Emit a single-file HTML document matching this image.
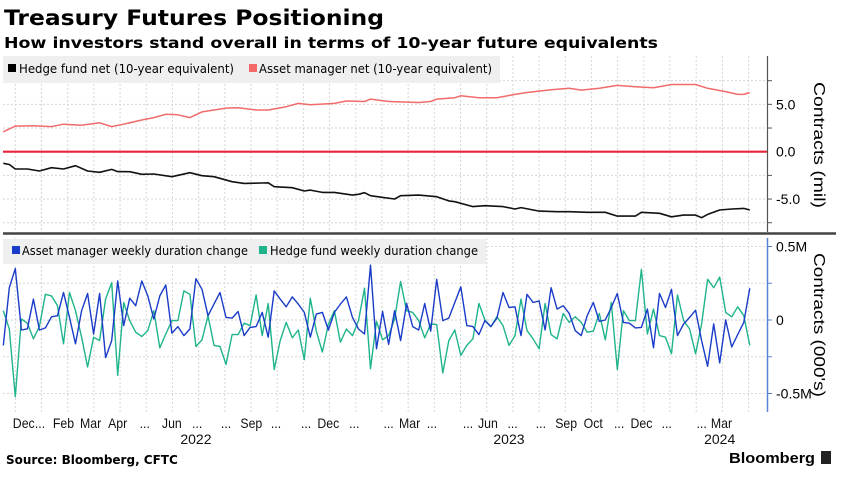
<!DOCTYPE html>
<html><head><meta charset="utf-8"><style>
html,body{margin:0;padding:0;background:#fff;}
svg{display:block;font-family:"DejaVu Sans","Liberation Sans",sans-serif;}
</style></head><body>
<svg id="chart" width="846" height="477" viewBox="0 0 846 477" xmlns="http://www.w3.org/2000/svg">
<text x="4" y="25" font-size="21" font-weight="bold" textLength="380" lengthAdjust="spacingAndGlyphs">Treasury Futures Positioning</text>
<text x="4" y="48" font-size="15" font-weight="bold" textLength="654" lengthAdjust="spacingAndGlyphs">How investors stand overall in terms of 10-year future equivalents</text>
<g id="grid"></g>
<rect x="3" y="56" width="497" height="27" fill="#efefef"/>
<rect x="8" y="64" width="8" height="8" fill="#000"/>
<text x="19" y="73" font-size="12" textLength="215" lengthAdjust="spacingAndGlyphs">Hedge fund net (10-year equivalent)</text>
<rect x="249" y="64" width="8" height="8" fill="#f46a6a"/>
<text x="259" y="73" font-size="12" textLength="233" lengthAdjust="spacingAndGlyphs">Asset manager net (10-year equivalent)</text>
<rect x="3" y="239" width="483" height="25" fill="#efefef"/>
<rect x="12" y="246" width="8" height="8" fill="#1a3cc8"/>
<text x="22" y="255" font-size="12" textLength="226" lengthAdjust="spacingAndGlyphs">Asset manager weekly duration change</text>
<rect x="259" y="246" width="8" height="8" fill="#1fb48c"/>
<text x="270" y="255" font-size="12" textLength="208" lengthAdjust="spacingAndGlyphs">Hedge fund weekly duration change</text>
<g id="series"></g>
<line x1="3" y1="233.5" x2="836" y2="233.5" stroke="#444" stroke-width="2.5"/>
<line x1="767.5" y1="56" x2="767.5" y2="232" stroke="#555" stroke-width="1.2"/>
<line x1="767.5" y1="238" x2="767.5" y2="412" stroke="#5b82d2" stroke-width="1.5"/>
<g id="axes"></g>
<text transform="translate(814,145) rotate(90)" text-anchor="middle" font-size="16" font-family="Liberation Sans, sans-serif" textLength="126" lengthAdjust="spacingAndGlyphs">Contracts (mil)</text>
<text transform="translate(814,325) rotate(90)" text-anchor="middle" font-size="16" font-family="Liberation Sans, sans-serif" textLength="144" lengthAdjust="spacingAndGlyphs">Contracts (000's)</text>
<g id="xlabels" fill="#111"></g>
<text x="6" y="464" font-size="12" font-weight="bold">Source: Bloomberg, CFTC</text>
<text x="729" y="463" font-size="15" font-weight="bold" font-family="Liberation Sans, sans-serif" textLength="86" lengthAdjust="spacingAndGlyphs">Bloomberg</text>
<rect x="821" y="451" width="10" height="13" fill="#222"/>
</svg>
<script>
// Weekly duration change (thousands of contracts), weeks 0..124
const assetMgrWeekly = [-173,220,350,-68,-60,142,-68,-54,22,29,187,18,-162,63,180,-95,180,-256,-140,265,-38,148,97,265,164,7,164,238,-90,-45,-106,-61,281,209,29,108,187,18,13,58,-106,-50,-45,52,-117,198,142,90,157,108,52,-117,40,52,-68,52,108,157,18,-61,-95,373,-196,58,-166,63,-140,112,-45,-68,
112,-76,277,-4,13,119,225,-38,-45,-99,-4,-45,13,187,85,90,-106,175,119,130,-68,220,74,97,45,-72,-106,29,119,-9,0,85,180,-16,-22,-54,-50,74,-189,180,85,209,-106,-27,18,67,-140,-315,-27,-292,0,-184,-99,-16,216];
const hedgeFundWeekly = [63,-61,-522,7,-22,-128,-45,175,164,97,-162,187,63,-117,-320,-117,-140,142,254,-376,119,-4,-83,-112,-72,63,-189,-95,-4,-4,198,175,-180,-135,29,-173,-180,-302,-99,-99,-22,-38,171,-106,112,-337,-140,-16,-121,-68,-270,148,-76,-218,-27,63,-151,-61,-106,-4,216,-331,-9,-135,-106,7,261,63,52,-4,
-121,-27,-31,-360,-140,-68,-241,-173,-128,112,0,-45,22,-38,-173,-106,142,-72,-128,-196,112,-99,-128,45,-16,22,-16,-83,-76,45,-135,119,-337,63,-4,-4,344,-95,74,-106,-117,-229,171,-4,-61,-229,-27,277,220,292,52,22,90,29,-173];
// Net positions (millions of 10y equivalent contracts), sampled at week indices
const assetMgrWeeks = [0,2,5,8,10,13,16,18,20,23,25,27,29,31,33,37,39,42,44,47,49,51,55,57,60,61,64,69,71,72,75,76,79,82,85,87,91,94,96,99,102,105,108,111,115,117,120,122,123,124];
const assetMgrNet = [2.1,2.7,2.75,2.65,2.9,2.8,3.05,2.65,2.9,3.35,3.6,3.95,3.9,3.6,4.2,4.6,4.65,4.4,4.4,4.75,5.1,4.95,5.1,5.35,5.3,5.55,5.3,5.2,5.3,5.55,5.7,5.9,5.7,5.7,6.05,6.25,6.55,6.7,6.5,6.7,7.0,6.85,6.75,7.1,7.1,6.7,6.35,6.05,6.05,6.25];
const hedgeFundWeeks = [0,1,2,4,6,8,10,12,14,16,18,19,21,23,25,28,31,33,35,38,40,43,44,45,48,50,51,53,55,58,59,60,61,65,66,69,72,74,75,78,80,83,85,86,89,92,94,97,100,102,105,106,109,111,113,115,116,117,119,121,123,124];
const hedgeFundNet = [-1.23,-1.35,-1.83,-1.83,-2.04,-1.69,-1.83,-1.48,-2.04,-2.18,-1.87,-2.1,-2.11,-2.39,-2.36,-2.64,-2.22,-2.53,-2.64,-3.17,-3.35,-3.3,-3.28,-3.7,-3.8,-4.15,-4.05,-4.3,-4.3,-4.58,-4.5,-4.33,-4.65,-5.0,-4.65,-4.58,-4.75,-5.2,-5.28,-5.8,-5.7,-5.8,-6.05,-5.9,-6.27,-6.34,-6.34,-6.4,-6.4,-6.8,-6.8,-6.4,-6.5,-6.87,-6.7,-6.7,-6.97,-6.62,-6.16,-6.05,-5.99,-6.16];
const topTicks = [5.0,0.0,-5.0];
const topTickLabels = ["5.0","0.0","-5.0"];
const bottomTicks = [500,0,-500];
const bottomTickLabels = ["0.5M","0","-0.5M"];
const monthLabels = ["Dec","...","Feb","Mar","Apr","...","Jun","...","...","Sep","...","...","Dec","...","...","Mar","...","...","Jun","...","...","Sep","Oct","...","Dec","...","...","Mar"];
const monthLabelWeeks = [3.4,6.1,10,14.5,19,23.5,28,32.2,37,41.2,45.3,50.3,54,58.3,64,67.5,71.2,77.2,80.5,84.6,89.3,93.5,98,102.3,106,110.2,116,119.3];
const yearLabels = ["2022","2023","2024"];
const yearLabelWeeks = [32,84,119];

const NS="http://www.w3.org/2000/svg";
const xW = w => 3.3 + w*6.02;
const yTop = v => 151.7 - v*9.47;
const yBot = k => 320 - k*0.147;
function mk(tag, attrs, parent){const e=document.createElementNS(NS,tag);for(const k in attrs)e.setAttribute(k,attrs[k]);parent.appendChild(e);return e;}
const grid=document.getElementById('grid'), series=document.getElementById('series'), axes=document.getElementById('axes'), xl=document.getElementById('xlabels');

for(let w=2; w<=124; w+=4.35){
  const g=mk('line',{x1:xW(w),x2:xW(w),y1:56,y2:232,stroke:'#d6d6d6','stroke-dasharray':'2,2'},grid);
  
  
  const g2=mk('line',{x1:xW(w),x2:xW(w),y1:238,y2:412,stroke:'#d6d6d6','stroke-dasharray':'2,2'},grid);
  
  
}
[7.5,5,2.5,-2.5,-5,-7.5].forEach(v=>{
  const g=mk('line',{x1:3,x2:767,y1:yTop(v),y2:yTop(v),stroke:'#d6d6d6','stroke-dasharray':'2,2'},grid);
  
  
  const t=mk('line',{x1:767,x2:772,y1:yTop(v),y2:yTop(v),stroke:'#555'},axes);
  
  
});
[500,250,-250,-500].forEach(k=>{
  const g=mk('line',{x1:3,x2:767,y1:yBot(k),y2:yBot(k),stroke:'#d6d6d6','stroke-dasharray':'2,2'},grid);
  
  
});
[500,250,0,-250,-500].forEach(k=>{
  const t=mk('line',{x1:767,x2:772,y1:yBot(k),y2:yBot(k),stroke:'#5b82d2'},axes);
  
  
});
const zl=mk('line',{x1:3,x2:767,y1:yBot(0),y2:yBot(0),stroke:'#cfcfcf','stroke-dasharray':'2,2'},grid);



const z=mk('line',{x1:3,x2:767,y1:yTop(0),y2:yTop(0),stroke:'#e8243c','stroke-width':2.2},series);



function poly(ws, vs, yf, color, name, w){
  const pts=vs.map((v,i)=>xW(ws?ws[i]:i).toFixed(1)+','+yf(v).toFixed(1)).join(' ');
  const p=mk('polyline',{points:pts,fill:'none',stroke:color,'stroke-width':w,'stroke-linejoin':'round'},series);
  
  
}
poly(assetMgrWeeks, assetMgrNet, yTop, '#f26b6b','asset-manager-net-line',1.5);
poly(hedgeFundWeeks, hedgeFundNet, yTop, '#111','hedge-fund-net-line',1.6);
poly(null, hedgeFundWeekly, yBot, '#1fb48c','hedge-fund-weekly-line',1.4);
poly(null, assetMgrWeekly, yBot, '#1a3cc8','asset-manager-weekly-line',1.4);

topTicks.forEach((v,i)=>{
  const t=mk('text',{x:776,y:yTop(v)+5,'font-size':14,'font-family':'Liberation Sans, sans-serif'},axes);
  t.textContent=topTickLabels[i];
  
  
});
bottomTicks.forEach((v,i)=>{
  const t=mk('text',{x:776,y:yBot(v)+5,'font-size':14,'font-family':'Liberation Sans, sans-serif'},axes);
  t.textContent=bottomTickLabels[i];
  
  
});
monthLabels.forEach((m,i)=>{
  const t=mk('text',{x:xW(monthLabelWeeks[i]),y:428,'text-anchor':'middle','font-family':'Liberation Sans, sans-serif','font-size':14,'transform-origin':xW(monthLabelWeeks[i])+'px 428px',transform:'scale(0.88,1)'},xl);
  t.textContent=m;
  
  
});
yearLabels.forEach((m,i)=>{
  const t=mk('text',{x:xW(yearLabelWeeks[i]),y:444,'text-anchor':'middle','font-family':'Liberation Sans, sans-serif','font-size':14},xl);
  t.textContent=m;
  
  
});
</script>
</body></html>
